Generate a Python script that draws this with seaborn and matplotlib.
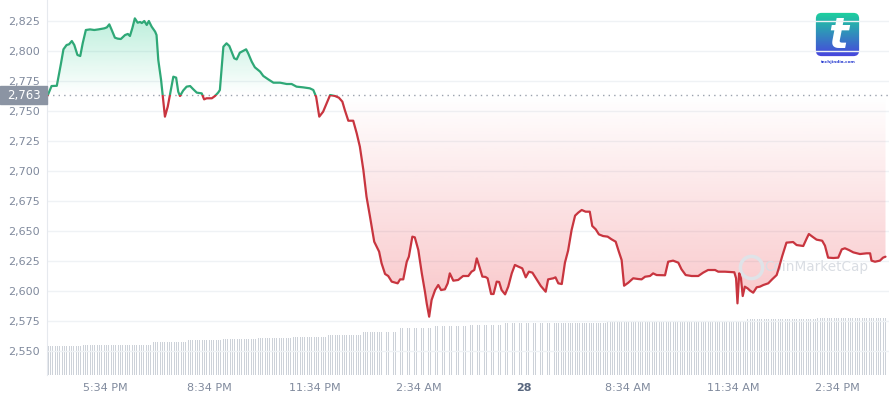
import matplotlib
matplotlib.use('Agg')
import matplotlib.pyplot as plt
import matplotlib.patches as mpatches
import matplotlib.transforms as mtransforms
import matplotlib.colors as mcolors
import numpy as np
import seaborn as sns

# hours since the start of the 24h window, and the price at that time
hours = [0.02, 0.13, 0.28, 0.40, 0.47, 0.56, 0.63, 0.71, 0.78, 0.87, 0.95, 1.02, 1.11, 1.23, 1.35,
         1.47, 1.64, 1.71, 1.78, 1.85, 1.94, 2.02, 2.11, 2.23, 2.31, 2.37, 2.44, 2.51, 2.59, 2.66,
         2.71, 2.78, 2.85, 2.91, 2.99, 3.09, 3.13, 3.18, 3.26, 3.31, 3.37, 3.45, 3.54, 3.61, 3.69,
         3.75, 3.80, 3.89, 3.99, 4.09, 4.18, 4.28, 4.42, 4.49, 4.56, 4.71, 4.80, 4.89, 4.94, 5.04,
         5.13, 5.21, 5.35, 5.42, 5.51, 5.69, 5.75, 5.85, 5.94, 6.09, 6.18, 6.32, 6.47, 6.66, 6.85,
         6.99, 7.13, 7.32, 7.51, 7.61, 7.69, 7.78, 7.89, 7.99, 8.09, 8.23, 8.34, 8.44, 8.51, 8.61,
         8.75, 8.85, 8.94, 9.04, 9.13, 9.23, 9.35, 9.49, 9.56, 9.66, 9.75, 9.85, 10.02, 10.09, 10.18,
         10.28, 10.34, 10.44, 10.51, 10.61, 10.71, 10.80, 10.85, 10.92, 10.99, 11.09, 11.18, 11.26,
         11.37, 11.45, 11.51, 11.61, 11.75, 11.89, 12.04, 12.13, 12.21, 12.28, 12.37, 12.44, 12.53,
         12.59, 12.69, 12.76, 12.85, 12.92, 12.99, 13.09, 13.18, 13.28, 13.37, 13.47, 13.58, 13.68,
         13.77, 13.87, 13.99, 14.11, 14.25, 14.32, 14.47, 14.53, 14.61, 14.71, 14.80, 14.89, 14.99,
         15.09, 15.18, 15.28, 15.39, 15.51, 15.58, 15.68, 15.77, 15.89, 16.02, 16.13, 16.25, 16.34,
         16.42, 16.49, 16.61, 16.75, 16.89, 16.99, 17.09, 17.23, 17.32, 17.42, 17.66, 17.75, 17.89,
         18.04, 18.13, 18.25, 18.42, 18.61, 18.75, 18.89, 19.09, 19.18, 19.37, 19.64, 19.69, 19.73,
         19.78, 19.83, 19.88, 19.94, 20.02, 20.09, 20.18, 20.28, 20.37, 20.47, 20.61, 20.72, 20.85,
         20.91, 21.01, 21.13, 21.32, 21.42, 21.61, 21.71, 21.77, 21.87, 21.99, 22.15, 22.23, 22.32,
         22.47, 22.61, 22.71, 22.80, 22.91, 23.04, 23.23, 23.42, 23.52, 23.56, 23.66, 23.80, 23.89,
         23.96]
prices = [2763.0, 2770.8, 2771.0, 2789.7, 2801.4, 2805.0, 2805.6, 2808.3, 2805.0, 2796.7, 2795.8,
          2806.4, 2817.5, 2818.0, 2817.5, 2818.0, 2818.9, 2819.7, 2822.2, 2817.5, 2811.1, 2810.3,
          2810.0, 2813.3, 2814.2, 2812.5, 2819.2, 2827.2, 2823.6, 2824.2, 2823.3, 2825.0, 2821.7,
          2825.0, 2820.3, 2816.1, 2813.3, 2792.5, 2775.8, 2761.9, 2745.3, 2753.6, 2767.5, 2778.6,
          2777.8, 2766.1, 2762.5, 2767.0, 2770.3, 2770.8, 2768.1, 2765.3, 2764.7, 2759.7, 2760.6,
          2760.6, 2762.5, 2765.3, 2767.5, 2803.6, 2806.4, 2804.2, 2793.9, 2793.0, 2798.6, 2801.4,
          2798.0, 2791.1, 2786.4, 2782.8, 2779.2, 2776.4, 2773.6, 2773.6, 2772.5, 2772.5, 2770.3,
          2769.7, 2768.9, 2767.5, 2761.9, 2745.3, 2749.4, 2756.4, 2763.3, 2762.5, 2761.1, 2757.8,
          2750.8, 2741.9, 2741.9, 2731.4, 2720.3, 2700.8, 2678.6, 2661.9, 2641.1, 2632.8, 2623.1,
          2614.2, 2612.5, 2607.8, 2606.4, 2609.7, 2609.7, 2624.4, 2628.6, 2645.3, 2644.7, 2634.2,
          2614.7, 2599.4, 2589.7, 2578.6, 2592.5, 2600.8, 2605.0, 2600.8, 2601.4, 2606.4, 2614.7,
          2608.6, 2609.2, 2612.5, 2612.5, 2616.1, 2617.5, 2627.2, 2618.9, 2612.0, 2611.7, 2610.6,
          2597.5, 2597.5, 2607.8, 2607.5, 2600.8, 2597.2, 2603.6, 2614.7, 2621.7, 2620.3, 2618.9,
          2611.4, 2616.1, 2615.3, 2609.7, 2604.2, 2599.4, 2609.7, 2610.6, 2611.4, 2606.4, 2605.8,
          2623.6, 2633.6, 2650.8, 2662.8, 2665.3, 2667.5, 2666.1, 2666.1, 2654.2, 2651.4, 2647.2,
          2645.8, 2645.3, 2643.1, 2641.1, 2632.8, 2625.8, 2604.4, 2606.9, 2610.6, 2610.0, 2609.7,
          2611.9, 2612.5, 2614.7, 2613.3, 2613.1, 2624.4, 2625.3, 2623.6, 2618.1, 2613.3, 2612.5,
          2612.5, 2615.3, 2617.5, 2617.5, 2616.1, 2616.1, 2615.6, 2610.6, 2589.7, 2614.7, 2610.6,
          2595.8, 2603.6, 2602.2, 2600.3, 2598.6, 2603.1, 2603.6, 2605.0, 2606.4, 2609.7, 2613.3,
          2618.9, 2629.2, 2640.3, 2640.8, 2638.3, 2637.5, 2643.9, 2647.5, 2645.3, 2642.8, 2641.9,
          2637.8, 2627.8, 2627.5, 2627.8, 2634.7, 2635.6, 2634.2, 2632.2, 2630.8, 2631.4, 2631.4,
          2625.3, 2624.4, 2625.3, 2627.8, 2628.6]
open_price = 2763

# 24h volume (billion USD), one level per hour, 15 bars (4 min) per hour
vol_hourly = [11.8, 12.0, 12.0, 13.2, 14.0, 14.4, 14.8, 15.2, 16.0, 17.2, 18.8, 19.6,
              20.2, 20.8, 20.8, 21.0, 21.2, 21.2, 21.4, 21.8, 22.4, 22.6, 22.8, 22.8]
bars_per_hour = 15

tick_hours = [1.66, 4.65, 7.64, 10.63, 13.62, 16.61, 19.60, 22.59]
tick_labels = ['5:34 PM', '8:34 PM', '11:34 PM', '2:34 AM', '28', '8:34 AM', '11:34 AM', '2:34 PM']
y_ticks = [2550, 2575, 2600, 2625, 2650, 2675, 2700, 2725, 2750, 2775, 2800, 2825]

GREEN = '#2fa877'
RED = '#c8353f'
GREY = '#808a9d'
XMAX = 24.06

sns.set_style('white')
plt.rcParams['font.family'] = ['DejaVu Sans']

fig = plt.figure(figsize=(8.89, 4), dpi=100)
ax = fig.add_axes([47 / 889, 25 / 400, 842 / 889, 375 / 400])
ax2 = ax.twinx()

# volume bars
vol = np.repeat(vol_hourly, bars_per_hour)
vol_t = np.arange(len(vol)) / bars_per_hour + 0.03
ax2.bar(vol_t, vol, width=0.028, color='#cdd2d9', linewidth=0)
ax2.set_ylim(0, 150)
ax2.axis('off')
ax.set_zorder(ax2.get_zorder() + 1)
ax.patch.set_visible(False)

# gradient fills clipped to the area between line and open price
h = np.array(hours)
p = np.array(prices)


def gradient_fill(color, y_lo, y_hi, a_lo, a_hi, upper):
    poly = ax.fill_between(h, upper, open_price, color='none', linewidth=0)
    img = np.zeros((200, 1, 4))
    img[:, 0, :3] = mcolors.to_rgb(color)
    img[:, 0, 3] = np.linspace(a_lo, a_hi, 200)
    im = ax.imshow(img, extent=[0, XMAX, y_lo, y_hi], origin='lower', aspect='auto', zorder=1)
    im.set_clip_path(poly.get_paths()[0], transform=ax.transData)


gradient_fill('#16c784', open_price, 2830, 0.0, 0.30, np.maximum(p, open_price))
gradient_fill('#ea3943', 2575, open_price, 0.30, 0.0, np.minimum(p, open_price))

# price line, green above open, red below
sns.lineplot(x=hours, y=prices, ax=ax, color=GREEN, linewidth=1.6, zorder=3)
ax.lines[-1].set_clip_path(mpatches.Rectangle((-1, open_price), 30, 400, transform=ax.transData))
sns.lineplot(x=hours, y=prices, ax=ax, color=RED, linewidth=1.6, zorder=3)
ax.lines[-1].set_clip_path(mpatches.Rectangle((-1, open_price - 400), 30, 400, transform=ax.transData))

ax.axhline(open_price, color='#9aa1ad', linestyle=(0, (1, 3)), linewidth=1, zorder=2)

ax.set_xlim(0, XMAX)
ax.set_ylim(2530, 2842.5)
ax.set_yticks(y_ticks)
ax.set_yticklabels([f'{v:,}' for v in y_ticks])
ax.set_xticks(tick_hours)
ax.set_xticklabels(tick_labels)
ax.set_xlabel('')
ax.set_ylabel('')
ax.yaxis.grid(True, color='#eff2f5', linewidth=1)
ax.xaxis.grid(False)
ax.tick_params(axis='y', length=0, pad=5, labelsize=8, labelcolor=GREY)
ax.tick_params(axis='x', length=3, width=1, color='#9aa1ad', pad=3, labelsize=8, labelcolor=GREY)
lbl = ax.get_xticklabels()[4]
lbl.set_fontweight('bold')
lbl.set_color('#58667e')
for side in ['top', 'right', 'bottom']:
    ax.spines[side].set_visible(False)
ax.spines['left'].set_color('#e6e9ee')

# open price tag on the y axis
trans = mtransforms.blended_transform_factory(fig.transFigure, ax.transData)
ax.add_patch(mpatches.Rectangle((0, open_price - 7.5), 47 / 889, 15, transform=trans,
                                color='#8b94a3', clip_on=False, zorder=6))
ax.text(23.5 / 889, open_price, f'{open_price:,}', transform=trans, color='white', fontsize=8.5,
        ha='center', va='center', clip_on=False, zorder=7)

# CoinMarketCap watermark
ax.plot([0.836], [0.288], transform=ax.transAxes, marker='o', markersize=16, markerfacecolor='none',
        markeredgecolor='#dfe3e8', markeredgewidth=2.5, zorder=2)
ax.text(0.852, 0.288, 'CoinMarketCap', transform=ax.transAxes, fontsize=9.8, color='#d9dde3',
        va='center', ha='left', zorder=2)

# logo top right
lax = fig.add_axes([814 / 889, (400 - 58) / 400, 47 / 889, 47 / 400])
lax.axis('off')
top = np.array(mcolors.to_rgb('#1bd69b'))
bottom = np.array(mcolors.to_rgb('#4a3fe0'))
grad = np.linspace(bottom, top, 100)[:, None, :]
lim = lax.imshow(grad, extent=[0, 1, 0, 1], origin='lower', aspect='auto')
lax.set_xlim(0, 1)
lax.set_ylim(0, 1)
box = mpatches.FancyBboxPatch((0.04, 0.04), 0.92, 0.92, boxstyle='round,pad=0,rounding_size=0.12',
                              transform=lax.transData, facecolor='none', edgecolor='none')
lax.add_patch(box)
lim.set_clip_path(box)
lax.text(0.52, 0.47, 't', transform=lax.transAxes, fontsize=30, color='white', fontweight='bold',
         fontstyle='italic', ha='center', va='center')
fig.text(838 / 889, (400 - 62) / 400, 'techjindia.com', fontsize=3, color='#2b3fd1',
         fontweight='bold', ha='center', va='center')

fig.savefig('out.png', dpi=100)
